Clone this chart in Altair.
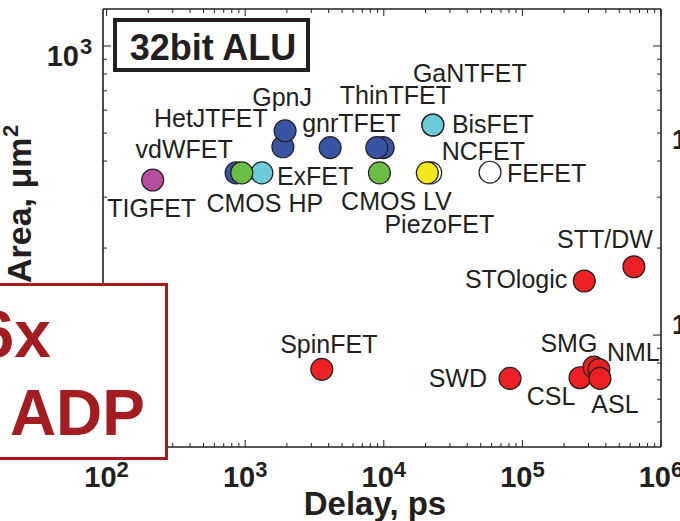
import altair as alt
import pandas as pd

# ---- benchmark data: 32-bit ALU, delay vs. area ----
tech = ["TIGFET", "vdWFET", "ExFET", "CMOS HP", "HetJTFET", "GpnJ", "gnrTFET",
        "HomJTFET", "ThinTFET", "GaNTFET", "BisFET", "CMOS LV", "NCFET",
        "PiezoFET", "FEFET", "SpinFET", "SWD", "STOlogic", "STT/DW", "CSL",
        "SMG", "NML", "ASL"]
delay_ps = [215, 860, 1320, 945, 1870, 1940, 4100,
            9900, 8900, 22600, 22600, 9300, 21800,
            20600, 58400, 3570, 81400, 279500, 637700, 260300,
            328000, 356700, 362700]
area_um2 = [344, 364, 364, 364, 448, 509, 445,
            445, 445, 533, 533, 364, 364,
            364, 366, 76.1, 70.8, 153.8, 172.3, 71.2,
            77.5, 76.0, 70.8]
family = ["TIGFET", "TFET", "other FET", "CMOS", "TFET", "TFET", "TFET",
          "TFET", "TFET", "TFET", "other FET", "CMOS", "ferroelectric",
          "piezoelectric", "ferroelectric", "spintronic", "spintronic",
          "spintronic", "spintronic", "spintronic",
          "spintronic", "spintronic", "spintronic"]

family_domain = ["CMOS", "TFET", "TIGFET", "other FET", "piezoelectric",
                 "ferroelectric", "spintronic"]
family_colors = ["#6BBE45", "#3A54A4", "#B4509F", "#6DCBD9", "#F2E81C",
                 "#FFFFFF", "#ED2024"]

x_major = [1e2, 1e3, 1e4, 1e5, 1e6]
x_exp = ["2", "3", "4", "5", "6"]
y_major = [1e2, 1e3]
y_exp = ["2", "3"]

# ---- layout ----
W, H = 558, 438
INK = "#231F20"
RED = "#A21C20"
FONT = "Liberation Sans"
X_DOMAIN = [94.2, 1e6]
Y_DOMAIN = [41.0, 1343]

# label placement relative to each marker: (align, dx, dy) with alphabetic baseline
LABEL_LAYOUT = {
    "TIGFET": ("center", -1, 37),
    "vdWFET": ("center", -52, -15),
    "CMOS HP": ("center", 23, 39),
    "ExFET": ("left", 15, 12),
    "HetJTFET": ("center", -72, -20),
    "GpnJ": ("center", -3, -25),
    "gnrTFET": ("left", -28, -16),
    "ThinTFET": ("left", -37, -44),
    "GaNTFET": ("center", 37, -43),
    "BisFET": ("left", 19, 8),
    "NCFET": ("left", 11, -13),
    "PiezoFET": ("center", 12, 60),
    "CMOS LV": ("center", 17, 37),
    "FEFET": ("left", 17, 10),
    "STT/DW": ("right", 19, -19),
    "STOlogic": ("right", -17, 7),
    "SMG": ("center", -25, -15),
    "NML": ("left", 8, -9),
    "SWD": ("right", -23, 9),
    "CSL": ("center", -29, 27),
    "ASL": ("center", 15, 35),
    "SpinFET": ("center", 7, -16),
}

points = pd.DataFrame({"tech": tech, "delay": delay_ps, "area": area_um2,
                       "family": family})

xs = alt.Scale(type="log", domain=X_DOMAIN, nice=False)
ys = alt.Scale(type="log", domain=Y_DOMAIN, nice=False)

X = alt.X("delay:Q", scale=xs, axis=None)
Y = alt.Y("area:Q", scale=ys, axis=None)

# ---- tick marks (inside, on all four sides) ----
x_minor = [m * 10 ** e for e in range(2, 6) for m in range(2, 10)]
y_minor = [m * 10 ** e for e in (1, 2) for m in range(2, 10)
           if Y_DOMAIN[0] < m * 10 ** e < Y_DOMAIN[1]]


def x_ticks(values, length):
    df = pd.DataFrame({"delay": values})
    xe = alt.X("delay:Q", scale=xs, axis=None)
    bottom = alt.Chart(df).mark_rule(color=INK, strokeWidth=1).encode(
        x=xe, y=alt.value(H), y2=alt.value(H - length))
    top = alt.Chart(df).mark_rule(color=INK, strokeWidth=1).encode(
        x=xe, y=alt.value(0), y2=alt.value(length))
    return bottom + top


def y_ticks(values, length):
    df = pd.DataFrame({"area": values})
    ye = alt.Y("area:Q", scale=ys, axis=None)
    left = alt.Chart(df).mark_rule(color=INK, strokeWidth=1).encode(
        y=ye, x=alt.value(0), x2=alt.value(length))
    right = alt.Chart(df).mark_rule(color=INK, strokeWidth=1).encode(
        y=ye, x=alt.value(W), x2=alt.value(W - length))
    return left + right


ticks = x_ticks(x_major, 7) + x_ticks(x_minor, 4) + y_ticks(y_major, 8) + y_ticks(y_minor, 4)

# ---- frame ----
frame_df = pd.DataFrame({"k": [0]})
frame = (
    alt.Chart(frame_df).mark_rule(color=INK, strokeWidth=1.6).encode(
        x=alt.value(0), x2=alt.value(W), y=alt.value(0))
    + alt.Chart(frame_df).mark_rule(color=INK, strokeWidth=1.6).encode(
        x=alt.value(0), x2=alt.value(W), y=alt.value(H))
    + alt.Chart(frame_df).mark_rule(color=INK, strokeWidth=1.6).encode(
        x=alt.value(0), y=alt.value(0), y2=alt.value(H))
    + alt.Chart(frame_df).mark_rule(color=INK, strokeWidth=1.6).encode(
        x=alt.value(W), y=alt.value(0), y2=alt.value(H))
)

# ---- tick labels: "10" with a raised exponent ----
xl = pd.DataFrame({"delay": x_major, "exp": x_exp, "base": ["10"] * len(x_major)})
x_labels = (
    alt.Chart(xl).mark_text(align="right", baseline="alphabetic", dx=10,
                            font=FONT, fontSize=29, fontWeight="bold", color=INK)
    .encode(x=alt.X("delay:Q", scale=xs, axis=None), y=alt.value(478), text="base:N")
    + alt.Chart(xl).mark_text(align="left", baseline="alphabetic", dx=10,
                              font=FONT, fontSize=22, fontWeight="bold", color=INK)
    .encode(x=alt.X("delay:Q", scale=xs, axis=None), y=alt.value(468), text="exp:N")
)

yl = pd.DataFrame({"area": y_major, "exp": y_exp, "base": ["10"] * len(y_major)})
y_labels = (
    alt.Chart(yl).mark_text(align="right", baseline="alphabetic", dy=20,
                            font=FONT, fontSize=29, fontWeight="bold", color=INK)
    .encode(y=alt.Y("area:Q", scale=ys, axis=None), x=alt.value(-24), text="base:N")
    + alt.Chart(yl).mark_text(align="left", baseline="alphabetic", dy=8,
                              font=FONT, fontSize=22, fontWeight="bold", color=INK)
    .encode(y=alt.Y("area:Q", scale=ys, axis=None), x=alt.value(-23), text="exp:N")
)

# ---- markers ----
markers = alt.Chart(points).mark_circle(size=480, opacity=1, stroke=INK,
                                        strokeWidth=1.2).encode(
    x=X, y=Y,
    color=alt.Color("family:N",
                    scale=alt.Scale(domain=family_domain, range=family_colors),
                    legend=None),
)

# ---- marker labels ----
label_layers = []
for name, (align, dx, dy) in LABEL_LAYOUT.items():
    label_layers.append(
        alt.Chart(points)
        .transform_filter(alt.FieldEqualPredicate(field="tech", equal=name))
        .mark_text(align=align, baseline="alphabetic", dx=dx, dy=dy,
                   font=FONT, fontSize=25, color=INK)
        .encode(x=X, y=Y, text="tech:N")
    )
labels = alt.layer(*label_layers)


def note(text, x, y, **kw):
    return alt.Chart(pd.DataFrame({"t": [text]})).mark_text(
        font=FONT, **kw).encode(x=alt.value(x), y=alt.value(y), text="t:N")


# ---- axis titles ----
x_title = note("Delay, ps", 272, 506, align="center", baseline="alphabetic",
               fontSize=33, fontWeight="bold", color=INK)
y_title = (
    note("Area, μm", -72, 274, align="left", baseline="alphabetic", angle=270,
         fontSize=34, fontWeight="bold", color=INK)
    + note("2", -85, 128, align="left", baseline="alphabetic", angle=270,
           fontSize=22, fontWeight="bold", color=INK)
)

# ---- "32bit ALU" tag ----
box_df = pd.DataFrame({"k": [0]})
alu_box = alt.Chart(box_df).mark_rect(fill="white", stroke=INK, strokeWidth=4).encode(
    x=alt.value(12), x2=alt.value(205), y=alt.value(11), y2=alt.value(61))
alu_text = note("32bit ALU", 110, 51, align="center", baseline="alphabetic",
                fontSize=36, fontWeight="bold", color=INK)

# ---- ADP callout ----
adp_box = alt.Chart(box_df).mark_rect(fill="white", stroke=RED, strokeWidth=3).encode(
    x=alt.value(-130), x2=alt.value(63.5), y=alt.value(275.5), y2=alt.value(449.5))
adp_text = (
    note("6x", -52, 348, align="right", baseline="alphabetic",
         fontSize=66, fontWeight="bold", color=RED)
    + note("ADP", 42, 426, align="right", baseline="alphabetic",
           fontSize=64, fontWeight="bold", color=RED)
)

# ---- tick labels of the neighbouring panel at the right edge ----
edge_text = (
    note("10", 569, 140, align="left", baseline="alphabetic",
         fontSize=27, fontWeight="bold", color=INK)
    + note("10", 569, 325, align="left", baseline="alphabetic",
           fontSize=27, fontWeight="bold", color=INK)
)

chart = alt.layer(
    ticks, markers, labels, frame, x_labels, y_labels, x_title, y_title,
    alu_box, alu_text, adp_box, adp_text, edge_text,
).properties(
    width=W, height=H,
    autosize=alt.AutoSizeParams(type="none"),
    padding={"left": 103, "top": 9, "right": 19, "bottom": 74},
).configure_view(stroke=None)

chart.save("out.html", embed_options={"renderer": "svg", "actions": False})
